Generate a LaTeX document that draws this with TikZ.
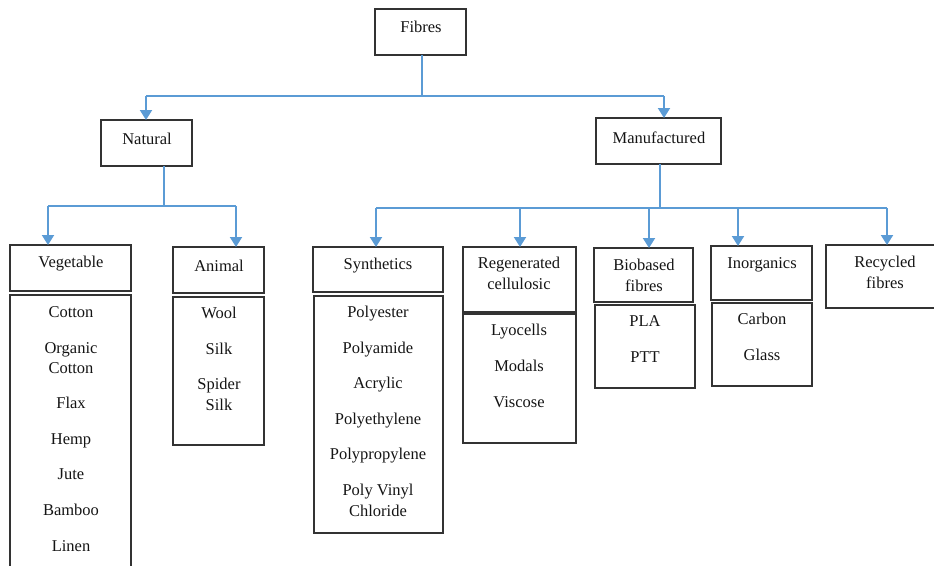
\documentclass[tikz,border=0pt]{standalone}
\usepackage{fontspec}
\setmainfont{Liberation Serif}
\usetikzlibrary{arrows.meta,fit}
\definecolor{conn}{HTML}{5B9BD5}
\definecolor{frame}{HTML}{333333}
\begin{document}
\begin{tikzpicture}[x=1pt,y=-1pt,
  box/.style={draw=frame, line width=1.6pt, inner sep=0pt, outer sep=0pt},
  lbl/.style={anchor=base, font=\fontsize{16.5}{21}\selectfont, text=black!92, inner sep=0pt},
  link/.style={draw=conn, line width=1.4pt},
  arr/.style={draw=conn, line width=2pt, -{Triangle[width=12pt,length=10pt]}}]
\useasboundingbox (0,0) rectangle (934,565);

% header boxes
\node[box, fit={(375,9) (466,55)}] (fibres) {};
\node[box, fit={(101,120) (192,166)}] (natural) {};
\node[box, fit={(596,118) (721,164)}] (manuf) {};
\node[box, fit={(10,245) (131,291)}] (veg) {};
\node[box, fit={(173,247) (264,293)}] (animal) {};
\node[box, fit={(313,247) (443,292)}] (synth) {};
\node[box, fit={(463,247) (576,312)}] (regen) {};
\node[box, fit={(594,248) (693,302)}] (bio) {};
\node[box, fit={(711,246) (812,300)}] (inorg) {};
\node[box, fit={(826,245) (944,308)}] (recyc) {};

% list boxes
\node[box, fit={(10,295) (131,580)}] (veglist) {};
\node[box, fit={(173,297) (264,445)}] (anilist) {};
\node[box, fit={(314,296) (443,533)}] (synlist) {};
\node[box, fit={(463,314) (576,443)}] (reglist) {};
\node[box, fit={(595,305) (695,388)}] (biolist) {};
\node[box, fit={(712,303) (812,386)}] (inolist) {};

% header labels
\node[lbl] (tfibres) at (421,32) {Fibres};
\node[lbl] (tnatural) at (147,144) {Natural};
\node[lbl] (tmanuf) at (659,143) {Manufactured};
\node[lbl] (tveg) at (71,267) {Vegetable};
\node[lbl] (tanimal) at (219,271) {Animal};
\node[lbl] (tsynth) at (378,269) {Synthetics};
\node[lbl] (tregen1) at (519,268) {Regenerated};
\node[lbl] (tregen2) at (519,289) {cellulosic};
\node[lbl] (tbio1) at (644,270) {Biobased};
\node[lbl] (tbio2) at (644,291) {fibres};
\node[lbl] (tinorg) at (762,268) {Inorganics};
\node[lbl] (trec1) at (885,267) {Recycled};
\node[lbl] (trec2) at (885,288) {fibres};

% vegetable items
\node[lbl] (v1) at (71,317) {Cotton};
\node[lbl] (v2) at (71,353) {Organic};
\node[lbl] (v2b) at (71,373) {Cotton};
\node[lbl] (v3) at (71,408) {Flax};
\node[lbl] (v4) at (71,444) {Hemp};
\node[lbl] (v5) at (71,479) {Jute};
\node[lbl] (v6) at (71,515) {Bamboo};
\node[lbl] (v7) at (71,551) {Linen};

% animal items
\node[lbl] (a1) at (219,318) {Wool};
\node[lbl] (a2) at (219,354) {Silk};
\node[lbl] (a3) at (219,389) {Spider};
\node[lbl] (a3b) at (219,410) {Silk};

% synthetic items
\node[lbl] (s1) at (378,317) {Polyester};
\node[lbl] (s2) at (378,353) {Polyamide};
\node[lbl] (s3) at (378,388) {Acrylic};
\node[lbl] (s4) at (378,424) {Polyethylene};
\node[lbl] (s5) at (378,459) {Polypropylene};
\node[lbl] (s6) at (378,495) {Poly Vinyl};
\node[lbl] (s6b) at (378,516) {Chloride};

% regenerated items
\node[lbl] (r1) at (519,335) {Lyocells};
\node[lbl] (r2) at (519,371) {Modals};
\node[lbl] (r3) at (519,407) {Viscose};

% biobased items
\node[lbl] (b1) at (645,326) {PLA};
\node[lbl] (b2) at (645,362) {PTT};

% inorganic items
\node[lbl] (i1) at (762,324) {Carbon};
\node[lbl] (i2) at (762,360) {Glass};

% connectors: level 1
\coordinate (t0) at (422,96);
\coordinate (tn) at (146,96);
\coordinate (tm) at (664,96);
\draw[link] (fibres.south -| t0) -- (t0);
\draw[link] (tn) -- (tm);
\draw[arr] (tn) -- (natural.north -| tn);
\draw[arr] (tm) -- (manuf.north -| tm);

% connectors: natural
\coordinate (n0) at (164,206);
\coordinate (nv) at (48,206);
\coordinate (na) at (236,206);
\draw[link] (natural.south -| n0) -- (n0);
\draw[link] (nv) -- (na);
\draw[arr] (nv) -- (veg.north -| nv);
\draw[arr] (na) -- (animal.north -| na);

% connectors: manufactured
\coordinate (m0) at (660,208);
\coordinate (ms) at (376,208);
\coordinate (mr) at (520,208);
\coordinate (mb) at (649,208);
\coordinate (mi) at (738,208);
\coordinate (mc) at (887,208);
\draw[link] (manuf.south -| m0) -- (m0);
\draw[link] (ms) -- (mc);
\draw[arr] (ms) -- (synth.north -| ms);
\draw[arr] (mr) -- (regen.north -| mr);
\draw[arr] (mb) -- (bio.north -| mb);
\draw[arr] (mi) -- (inorg.north -| mi);
\draw[arr] (mc) -- (recyc.north -| mc);
\end{tikzpicture}
\end{document}
